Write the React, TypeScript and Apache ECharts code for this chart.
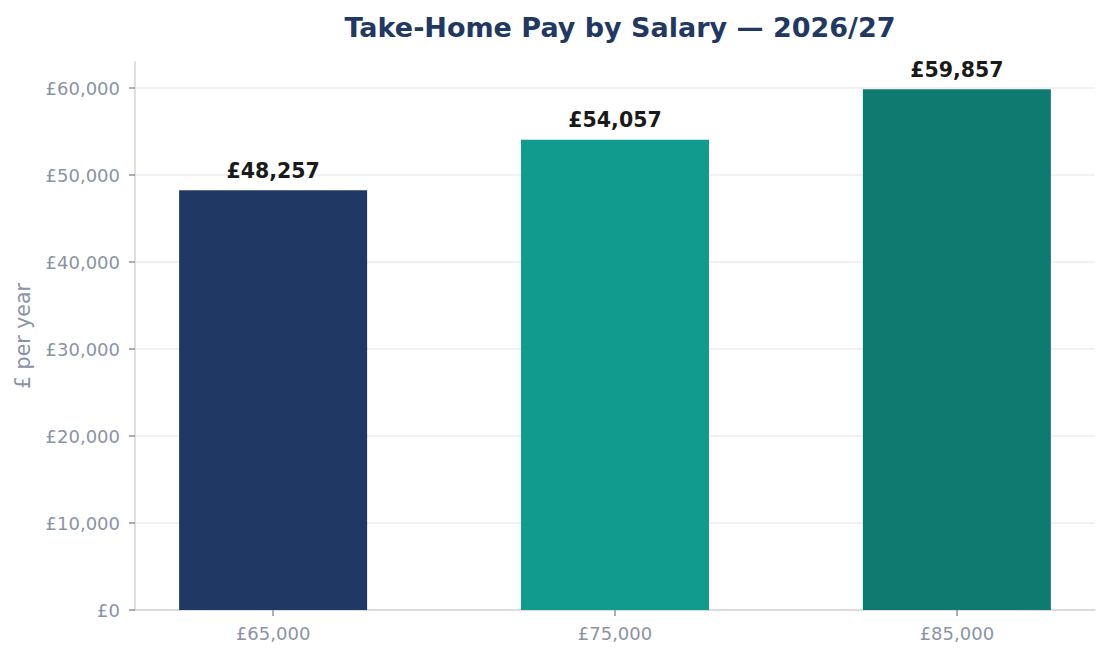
import { useEffect, useRef } from 'react'
import * as echarts from 'echarts'

const salaries = ['£65,000', '£75,000', '£85,000']
const takeHome = [48257, 54057, 59857]
const barColors = ['#203864', '#119b8f', '#0e7a70']
const yTicks = [0, 10000, 20000, 30000, 40000, 50000, 60000]

const fmt = (v: number) => '£' + v.toLocaleString('en-GB')

export default function App() {
  const chartRef = useRef<HTMLDivElement>(null)

  useEffect(() => {
    if (!chartRef.current) return
    const chart = echarts.init(chartRef.current, null, { renderer: 'svg' })
    const font = 'DejaVu Sans'
    const xPos = salaries.map((_, i) => i)

    const option = {
      animation: false,
      textStyle: { fontFamily: font },
      title: {
        text: 'Take-Home Pay by Salary — 2026/27',
        left: 615,
        top: 9,
        textAlign: 'center',
        textStyle: { fontFamily: font, fontSize: 27, fontWeight: 'bold', color: '#1f3864' }
      },
      grid: { left: 135, right: 15, top: 62, bottom: 49 },
      xAxis: {
        type: 'value',
        min: -0.404,
        max: 2.404,
        splitLine: { show: false },
        axisLine: { onZero: false, lineStyle: { color: '#d4d4d4', width: 1.5 } },
        axisTick: { show: true, customValues: xPos, length: 6, lineStyle: { color: '#8a93a6', width: 1.5 } },
        axisLabel: {
          customValues: xPos,
          color: '#8a93a6',
          fontSize: 18,
          fontFamily: font,
          margin: 14,
          formatter: (v: number) => salaries[Math.round(v)] ?? ''
        }
      },
      yAxis: {
        type: 'value',
        min: 0,
        max: 63000,
        interval: 10000,
        name: '£ per year',
        nameLocation: 'middle',
        nameGap: 102,
        nameTextStyle: { color: '#8a93a6', fontSize: 20.5, fontFamily: font },
        axisLine: { show: true, onZero: false, lineStyle: { color: '#d4d4d4', width: 1.5 } },
        axisTick: { show: true, customValues: yTicks, length: 6, lineStyle: { color: '#8a93a6', width: 1.5 } },
        axisLabel: {
          customValues: yTicks,
          color: '#8a93a6',
          fontSize: 18,
          fontFamily: font,
          margin: 15,
          formatter: (v: number) => fmt(v)
        },
        splitLine: {
          lineStyle: {
            color: ['#ececec', '#ececec', '#ececec', '#ececec', '#ececec', '#ececec', '#ececec', 'transparent'],
            width: 1.5
          }
        }
      },
      series: [
        {
          type: 'bar',
          barWidth: 188,
          data: takeHome.map((v, i) => ({ value: [i, v], itemStyle: { color: barColors[i] } })),
          label: {
            show: true,
            position: 'top',
            distance: 9,
            formatter: (p: any) => fmt(p.value[1]),
            color: '#1a1a1a',
            fontSize: 20.5,
            fontWeight: 'bold',
            fontFamily: font
          }
        }
      ]
    }

    chart.setOption(option)
    return () => chart.dispose()
  }, [])

  return (
    <div
      ref={chartRef}
      style={{ position: 'absolute', left: 0, top: 0, width: '1110px', height: '659px', background: '#fff' }}
    />
  )
}
